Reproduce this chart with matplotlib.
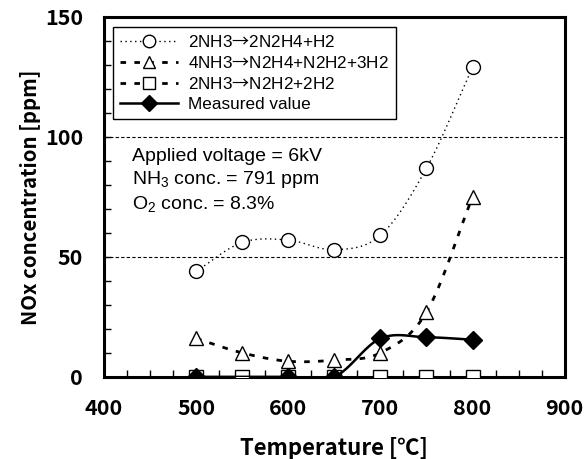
import numpy as np
import matplotlib
matplotlib.use('Agg')
import matplotlib.pyplot as plt
from matplotlib.ticker import MultipleLocator

plt.rcParams['font.family'] = ['Liberation Sans', 'DejaVu Sans']
plt.rcParams['mathtext.fontset'] = 'custom'
plt.rcParams['mathtext.rm'] = 'Liberation Sans'
plt.rcParams['mathtext.it'] = 'Liberation Sans:italic'
plt.rcParams['mathtext.sf'] = 'Noto Sans CJK JP'

# data
temp = [500, 550, 600, 650, 700, 750, 800]
r1_vals = [44, 56, 57, 53, 59, 87, 129]     # 2NH3 -> 2N2H4 + H2
r2_vals = [16, 10, 6.5, 7, 10, 27, 75]      # 4NH3 -> N2H4 + N2H2 + 3H2
r3_vals = [0, 0, 0, 0, 0, 0, 0]             # 2NH3 -> N2H2 + 2H2
meas_temp = [500, 600, 650, 700, 750, 800]
meas_vals = [0, 0, 0, 16, 16.5, 15.5]

ARROW = r'$\mathsf{→}$'
labels = ['2NH3' + ARROW + '2N2H4+H2', '4NH3' + ARROW + 'N2H4+N2H2+3H2',
          '2NH3' + ARROW + 'N2H2+2H2', 'Measured value']

JP = ['Noto Sans CJK JP', 'DejaVu Sans']


def smooth(x, y, n=20):
    # Catmull-Rom style curve through the points (like Excel's smoothed line)
    x = np.asarray(x, float)
    y = np.asarray(y, float)
    px = np.concatenate([[2 * x[0] - x[1]], x, [2 * x[-1] - x[-2]]])
    py = np.concatenate([[2 * y[0] - y[1]], y, [2 * y[-1] - y[-2]]])
    xs, ys = [], []
    t = np.linspace(0, 1, n)
    for i in range(1, len(px) - 2):
        for p, out in ((px, xs), (py, ys)):
            p0, p1, p2, p3 = p[i - 1], p[i], p[i + 1], p[i + 2]
            out.extend(0.5 * (2 * p1 + (-p0 + p2) * t
                              + (2 * p0 - 5 * p1 + 4 * p2 - p3) * t ** 2
                              + (-p0 + 3 * p1 - 3 * p2 + p3) * t ** 3))
    return xs, ys


fig = plt.figure(figsize=(5.84, 4.59), dpi=100)
ax = fig.add_axes([0.178, 0.179, 0.789, 0.784])

ms = 10
series = [
    (temp, r1_vals, 'o', (0, (1, 2.5)), 1.0),
    (temp, r2_vals, '^', (0, (2, 3)), 2.0),
    (temp, r3_vals, 's', (0, (2, 3)), 2.0),
]
handles = []
for (xv, yv, mk, ls, lw), lab in zip(series, labels):
    sx, sy = smooth(xv, yv)
    ax.plot(sx, sy, color='black', linestyle=ls, linewidth=lw, zorder=2)
    ax.plot(xv, yv, linestyle='none', marker=mk, markersize=ms,
            markerfacecolor='white', markeredgecolor='black', markeredgewidth=1.0, zorder=3)
    h, = ax.plot([], [], color='black', linestyle=ls, linewidth=lw, marker=mk, markersize=ms - 1,
                 markerfacecolor='white', markeredgecolor='black', markeredgewidth=1.0)
    handles.append(h)

sx, sy = smooth(meas_temp, meas_vals)
ax.plot(sx, sy, color='black', linewidth=1.8, zorder=4)
ax.plot(meas_temp, meas_vals, linestyle='none', marker='D', markersize=ms - 1,
        color='black', zorder=5)
h, = ax.plot([], [], color='black', linewidth=1.8, marker='D', markersize=ms - 2)
handles.append(h)

ax.set_xlim(400, 900)
ax.set_ylim(0, 150)
ax.xaxis.set_major_locator(MultipleLocator(100))
ax.xaxis.set_minor_locator(MultipleLocator(25))
ax.yaxis.set_major_locator(MultipleLocator(50))
ax.yaxis.set_minor_locator(MultipleLocator(10))
ax.tick_params(which='both', direction='in', top=False, right=False, width=1.0)
ax.tick_params(which='both', length=5)
ax.tick_params(axis='x', which='major', pad=15)
ax.tick_params(axis='y', which='major', pad=15)
for lab in ax.get_xticklabels() + ax.get_yticklabels():
    lab.set_fontfamily(JP)
    lab.set_fontweight('bold')
    lab.set_fontsize(15.5)

for yg in (50, 100):
    ax.axhline(yg, color='black', linestyle=(0, (3, 2)), linewidth=0.8, zorder=1)

for sp in ax.spines.values():
    sp.set_linewidth(2.2)

ax.set_xlabel('Temperature [℃]', fontfamily=JP, fontweight='bold', fontsize=16, labelpad=13)
ax.set_ylabel('NOx concentration [ppm]', fontfamily=JP, fontweight='bold', fontsize=14.7, labelpad=3)

leg = ax.legend(handles, labels, loc='upper left', bbox_to_anchor=(0.02, 0.972), borderaxespad=0,
                fontsize=12.3, handlelength=3.4, handletextpad=0.6, labelspacing=0.3,
                borderpad=0.4, fancybox=False, framealpha=1, edgecolor='black')
leg.get_frame().set_linewidth(1.0)

ax.text(0.06, 0.635, 'Applied voltage = 6kV\nNH$_3$ conc. = 791 ppm\nO$_2$ conc. = 8.3%',
        transform=ax.transAxes, fontsize=14, va='top', linespacing=1.25)

fig.savefig('out.png', dpi=100)
